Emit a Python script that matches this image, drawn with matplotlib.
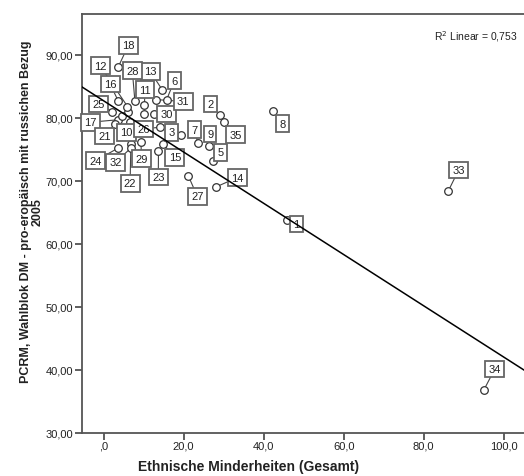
import matplotlib
matplotlib.use("Agg")
import matplotlib.pyplot as plt
import numpy as np

plt.rcParams['font.family'] = ['Liberation Sans', 'DejaVu Sans']

# ---- data ----
case_ids = list(range(1, 36))
minorities = [45.75, 29.1, 19.3, 6.15, 27.4, 15.75, 23.5, 42.25, 26.3, 6.6,
              10.2, 5.95, 14.7, 28.0, 14.9, 3.65, 3.65, 3.65, 10.2, 4.6,
              2.8, 6.8, 13.7, 3.5, 2.15, 14.1, 21.15, 7.8, 9.3, 12.6,
              13.1, 6.8, 86.15, 95.1, 30.15]
pcrm_vote = [63.8, 80.4, 77.2, 81.0, 73.1, 82.9, 76.0, 81.1, 75.5, 79.3,
             82.1, 81.8, 84.4, 69.0, 75.8, 82.65, 79.7, 88.1, 80.6, 80.3,
             79.05, 75.9, 74.7, 75.15, 81.0, 78.5, 70.8, 82.7, 76.1, 80.6,
             82.9, 75.2, 68.35, 36.8, 79.4]
fit_intercept = 82.7
fit_slope = -0.407
r2_text = "R$^2$ Linear = 0,753"
x_ticks = [0, 20, 40, 60, 80, 100]
y_ticks = [30, 40, 50, 60, 70, 80, 90]

# ---- layout: label box positions (data coords), None = not labelled ----
label_pos = {
    1: (48.25, 63.15), 2: (26.6, 82.2), 3: (17.0, 77.7), 5: (29.3, 74.5),
    6: (17.65, 85.9), 7: (22.8, 78.1), 8: (44.65, 79.05), 9: (26.6, 77.45),
    10: (5.75, 77.7), 11: (10.3, 84.5), 12: (-0.9, 88.3), 13: (11.6, 87.4),
    14: (33.4, 70.5), 15: (17.8, 73.75), 16: (1.6, 85.4), 17: (-3.4, 79.3),
    18: (6.15, 91.5), 21: (0.3, 77.1), 22: (6.6, 69.6), 23: (13.65, 70.6),
    24: (-2.0, 73.2), 25: (-1.35, 82.2), 26: (9.9, 78.25), 27: (23.4, 67.55),
    28: (7.15, 87.5), 29: (9.5, 73.5), 30: (15.75, 80.6), 31: (19.9, 82.6),
    32: (3.0, 72.95), 33: (88.75, 71.7), 34: (97.8, 40.1), 35: (33.0, 77.3),
}

W, H = 524, 477
fig = plt.figure(figsize=(W / 100, H / 100), dpi=100)
ax = fig.add_axes([81.7 / W, 1 - 433.5 / H, (524 - 81.7) / W, (433.5 - 15) / H])

xlim = (-5.5, 105.1)
ylim = (30, 96.5)
ax.set_xlim(*xlim)
ax.set_ylim(*ylim)

# leader lines
for cid, x, y in zip(case_ids, minorities, pcrm_vote):
    if cid in label_pos:
        lx, ly = label_pos[cid]
        ax.plot([x, lx], [y, ly], color='#444444', lw=0.8, zorder=2)

ax.scatter(minorities, pcrm_vote, s=30, facecolor='white', edgecolor='#333333',
           linewidth=0.9, zorder=3)

for cid in case_ids:
    if cid in label_pos:
        lx, ly = label_pos[cid]
        ax.text(lx, ly, str(cid), ha='center', va='center', fontsize=8,
                color='#222222', zorder=4,
                bbox=dict(boxstyle='square,pad=0.3', fc='white', ec='#666666', lw=1.3))

xs = np.array(xlim)
ax.plot(xs, fit_intercept + fit_slope * xs, color='black', lw=1.1, zorder=5)

ax.set_xticks(x_ticks)
ax.set_yticks(y_ticks)

def fx(v):
    s = f"{v:.1f}".replace('.', ',')
    if s.startswith('0'):
        s = s[1:]
    return s

ax.set_xticklabels([fx(v) for v in x_ticks])
ax.set_yticklabels([f"{v:.2f}".replace('.', ',') for v in y_ticks])
ax.tick_params(axis='both', direction='out', length=5, width=1.2, color='#444444',
               labelsize=8, labelcolor='#222222', pad=1)

for side, sp in ax.spines.items():
    sp.set_color('#555555')
    sp.set_linewidth(1.3)
ax.spines['right'].set_visible(False)

ax.text(0.985, 0.965, r2_text, transform=ax.transAxes, ha='right', va='top',
        fontsize=7.5, color='#222222')

fig.text(249 / W, 1 - 467 / H, "Ethnische Minderheiten (Gesamt)", ha='center',
         va='center', fontsize=10, fontweight='bold', color='#222222')
fig.text(32 / W, 1 - 212 / H,
         "PCRM, Wahlblok DM - pro-eropäisch mit russichen Bezug\n2005",
         ha='center', va='center', rotation=90, fontsize=9, fontweight='bold',
         color='#222222', multialignment='center', linespacing=0.95)

fig.savefig("out.png", dpi=100)
